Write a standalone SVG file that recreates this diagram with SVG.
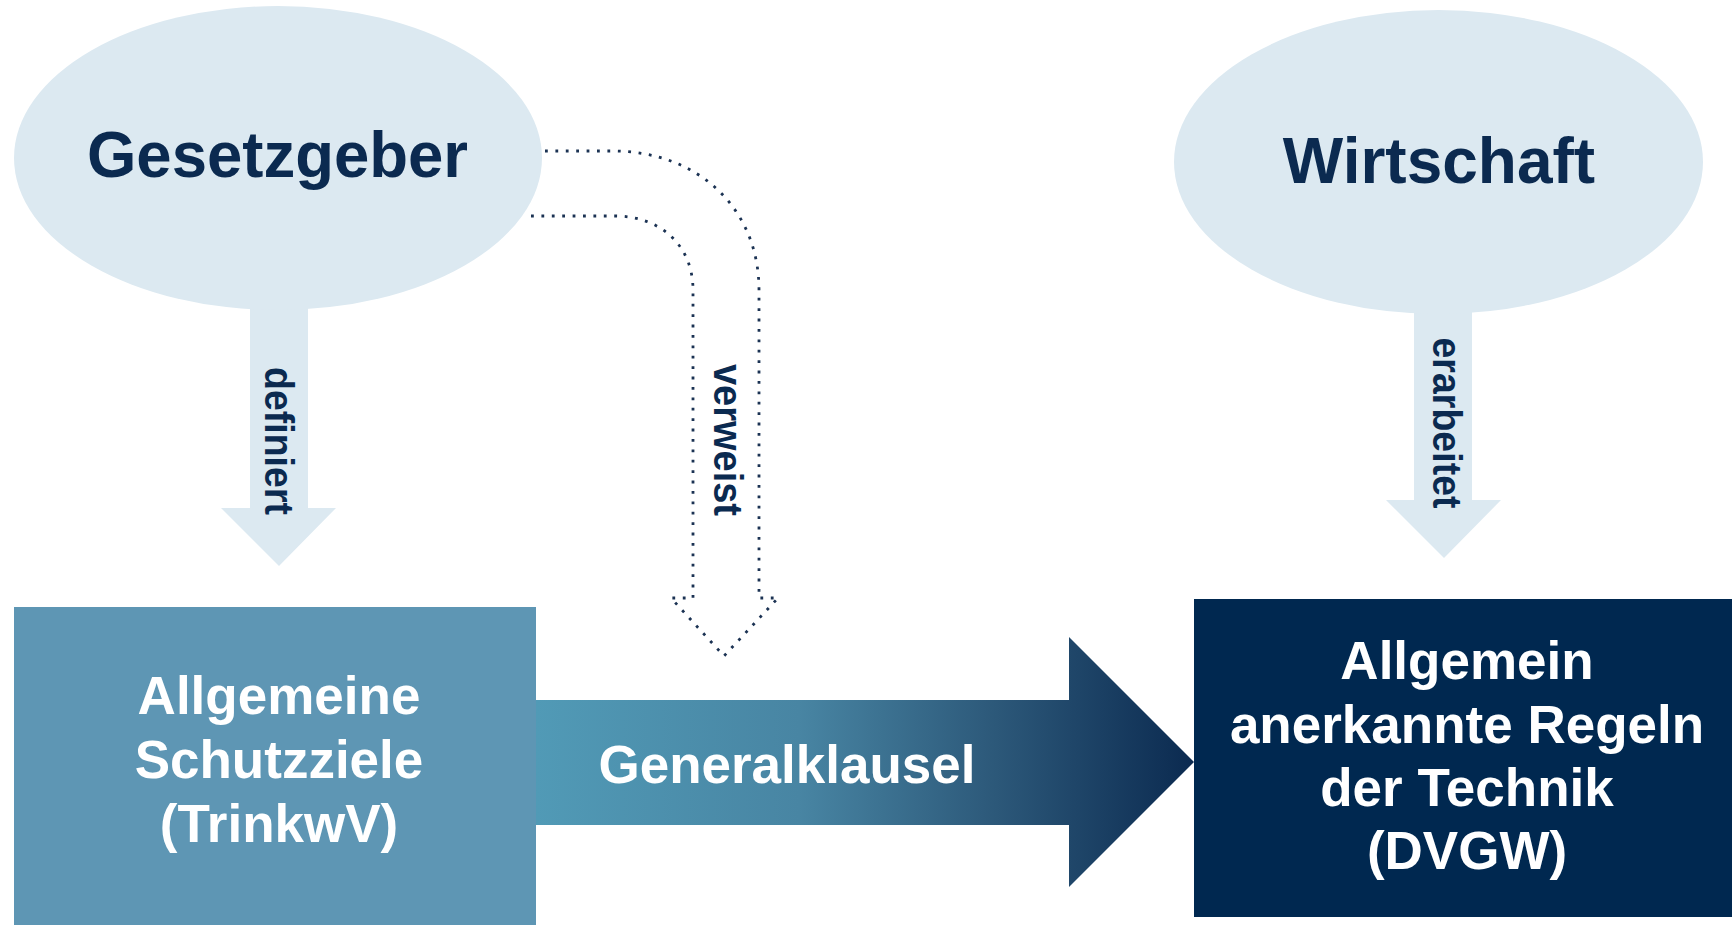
<svg xmlns="http://www.w3.org/2000/svg" width="1732" height="925" viewBox="0 0 1732 925">
<defs>
<style>
.bubble{fill:#dce9f1}
.navy{fill:#0b2a50;font-family:"Liberation Sans",Arial,sans-serif;font-weight:bold}
.white{fill:#ffffff;font-family:"Liberation Sans",Arial,sans-serif;font-weight:bold;text-anchor:middle}
.dots{fill:none;stroke:#1b3253;stroke-width:2.8;stroke-dasharray:2.8 7.6}
</style>
<linearGradient id="gk" gradientUnits="userSpaceOnUse" x1="536" y1="0" x2="1194" y2="0">
<stop offset="0" stop-color="#519ab6"/>
<stop offset="0.4" stop-color="#4885a3"/>
<stop offset="0.7" stop-color="#2c5879"/>
<stop offset="1" stop-color="#0b2a50"/>
</linearGradient>
</defs>
<rect width="1732" height="925" fill="#ffffff"/>

<g id="connectors">
<g id="definiert">
<path class="bubble" d="M250,290 H308 V508 H336 L279,566 L221,508 H250 Z"/>
<text class="navy" font-size="40" text-anchor="middle" textLength="148" lengthAdjust="spacingAndGlyphs" transform="translate(265,441) rotate(90)">definiert</text>
</g>
<g id="erarbeitet">
<path class="bubble" d="M1414,290 H1472 V500 H1501 L1444,558 L1386,500 H1414 Z"/>
<text class="navy" font-size="40" text-anchor="middle" textLength="171" lengthAdjust="spacingAndGlyphs" transform="translate(1433,423) rotate(90)">erarbeitet</text>
</g>
<g id="verweist">
<path class="dots" d="M545,151 H612 C700,151 759,210 759,290 V598 H778 L724,656 L671,598 H693 V290 C693,245 660,216 615,216 H527"/>
<text class="navy" font-size="40" text-anchor="middle" textLength="152" lengthAdjust="spacingAndGlyphs" transform="translate(714,440) rotate(90)">verweist</text>
</g>
<g id="generalklausel">
<path fill="url(#gk)" d="M536,700 H1069 V637 L1194,762 L1069,887 V825 H536 Z"/>
<text class="white" font-size="53" x="787" y="783">Generalklausel</text>
</g>
</g>

<g id="gesetzgeber">
<ellipse class="bubble" cx="278" cy="158" rx="264" ry="152"/>
<text class="navy" font-size="64" x="87" y="177" textLength="381" lengthAdjust="spacingAndGlyphs">Gesetzgeber</text>
</g>

<g id="wirtschaft">
<ellipse class="bubble" cx="1438.5" cy="162" rx="264.5" ry="152"/>
<text class="navy" font-size="64" x="1439" y="183" text-anchor="middle">Wirtschaft</text>
</g>

<g id="schutzziele">
<rect x="14" y="607" width="522" height="318" fill="#5e96b4"/>
<text class="white" font-size="53" x="279" y="714">Allgemeine</text>
<text class="white" font-size="53" x="279" y="778">Schutzziele</text>
<text class="white" font-size="53" x="279" y="842">(TrinkwV)</text>
</g>

<g id="regeln">
<rect x="1194" y="599" width="538" height="318" fill="#002850"/>
<text class="white" font-size="53" x="1467" y="679">Allgemein</text>
<text class="white" font-size="53" x="1467" y="743">anerkannte Regeln</text>
<text class="white" font-size="53" x="1467" y="806">der Technik</text>
<text class="white" font-size="53" x="1467" y="869">(DVGW)</text>
</g>
</svg>
